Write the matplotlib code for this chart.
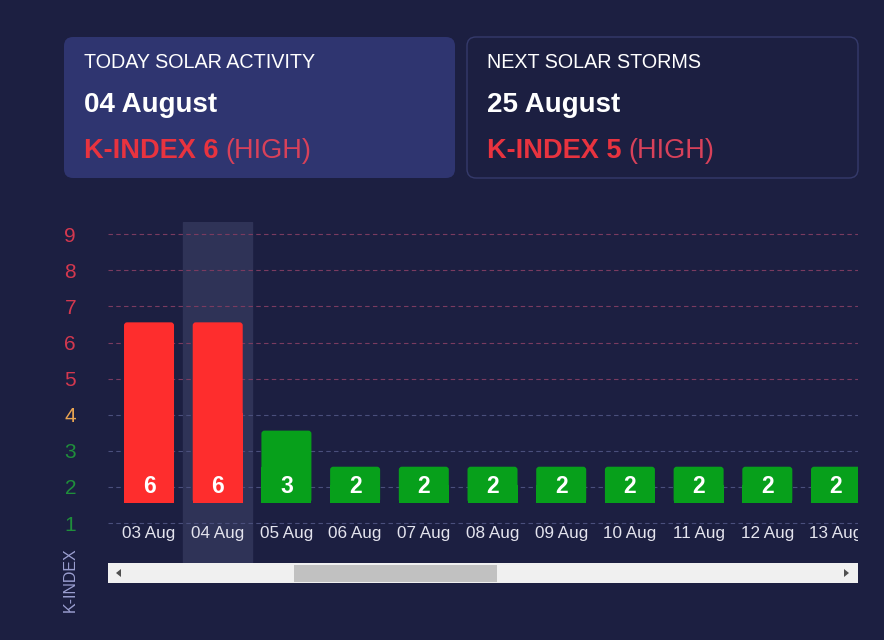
import numpy as np
import matplotlib
matplotlib.use("Agg")
import matplotlib.pyplot as plt
from matplotlib.patches import FancyBboxPatch, Rectangle, Polygon

plt.rcParams['font.family'] = ['Liberation Sans', 'DejaVu Sans']

# data
days = ["03 Aug", "04 Aug", "05 Aug", "06 Aug", "07 Aug", "08 Aug",
        "09 Aug", "10 Aug", "11 Aug", "12 Aug", "13 Aug"]
kindex = [6, 6, 3, 2, 2, 2, 2, 2, 2, 2, 2]
today_idx = 1
yticks = [1, 2, 3, 4, 5, 6, 7, 8, 9]

today_title = "TODAY SOLAR ACTIVITY"
today_date = "04 August"
today_k = 6
next_title = "NEXT SOLAR STORMS"
next_date = "25 August"
next_k = 5

bg = "#1c1f41"
red = "#fe2d2d"
green = "#07a01b"

W, H = 884, 640
fig = plt.figure(figsize=(W / 100, H / 100), dpi=100, facecolor=bg)

# background layer in pixel coords
bgax = fig.add_axes([0, 0, 1, 1], zorder=0)
bgax.set_xlim(0, W)
bgax.set_ylim(H, 0)
bgax.axis("off")
bgax.set_facecolor(bg)

# cards
bgax.add_patch(FancyBboxPatch((64, 37), 391, 141, boxstyle="round,pad=0,rounding_size=9",
                              fc="#2f3570", ec="none"))
bgax.add_patch(FancyBboxPatch((467, 37), 391, 141, boxstyle="round,pad=0,rounding_size=9",
                              fc=bg, ec="#353a6b", lw=1))


def card_text(x0, title, date, k):
    bgax.text(x0, 68, title, color="white", fontsize=14.2, va="baseline")
    bgax.text(x0, 112, date, color="white", fontsize=20, fontweight="bold", va="baseline")
    t = bgax.text(x0, 158, "K-INDEX %d" % k, color="#e8333f", fontsize=19.5,
                  fontweight="bold", va="baseline")
    bgax.annotate("(HIGH)", xy=(1, 0), xycoords=t, xytext=(5, 0), textcoords="offset points",
                  color="#d8415a", fontsize=19.5, va="bottom", ha="left")


card_text(84, today_title, today_date, today_k)
card_text(487, next_title, next_date, next_k)

# scrollbar
bgax.add_patch(Rectangle((108, 563), 750, 20, fc="#f0f0f0", ec="none"))
bgax.add_patch(Rectangle((294, 565), 203, 17, fc="#c1c1c1", ec="none"))
bgax.add_patch(Polygon([(116, 573), (121, 569), (121, 577)], fc="#505050", ec="none"))
bgax.add_patch(Polygon([(849, 573), (844, 569), (844, 577)], fc="#505050", ec="none"))

bgax.text(70, 580, "K-INDEX", color="#9a9ed0", fontsize=11.5, rotation=90,
          ha="center", va="center")

# main chart
ax = fig.add_axes([108 / W, 77 / H, 750 / W, 341 / H], zorder=1)
ax.patch.set_alpha(0)
for s in ax.spines.values():
    s.set_visible(False)
ax.set_xlim(-0.597, 10.32)
ax.set_ylim(-0.108, 9.34)

ax.axvspan(today_idx - 0.5, today_idx + 0.5, color="#2f3357", zorder=0)

for v in yticks:
    gc = "#7a3b60" if v >= 5 else "#4a4f7c"
    ax.axhline(v, color=gc, lw=0.8, ls=(0, (4, 3)), zorder=1)

base = 1.56
x = np.arange(len(days))
heights = [k - 1 for k in kindex]
colors = [red if k >= 5 else green for k in kindex]
bars = ax.bar(x, heights, bottom=base, width=0.728, color=colors, zorder=2)

# round the top corners: rounded box + square lower part
r = 0.045
aspect = 68.7 / 36.1
for b in bars:
    bx, by, bw, bh = b.get_x(), b.get_y(), b.get_width(), b.get_height()
    fc = b.get_facecolor()
    b.set_visible(False)
    ax.add_patch(FancyBboxPatch((bx, by), bw, bh, boxstyle="round,pad=0,rounding_size=%g" % r,
                                mutation_aspect=aspect, fc=fc, ec="none", zorder=2))
    ax.add_patch(Rectangle((bx, by), bw, bh / 2, fc=fc, ec="none", zorder=2))

for xi, k in zip(x, kindex):
    ax.text(xi, base + 0.45, str(k), color="white", fontsize=16.5, fontweight="bold",
            ha="center", va="center", zorder=3, clip_on=True)
for xi, d in zip(x, days):
    ax.text(xi, 0.72, d, color="#e4e4ee", fontsize=12.3, ha="center", va="center",
            zorder=3, clip_on=True)

ax.set_xticks([])
ax.set_yticks(yticks)
ax.set_yticklabels([str(v) for v in yticks], fontsize=15)
ax.tick_params(axis="y", length=0, pad=23)
for lab, v in zip(ax.get_yticklabels(), yticks):
    if v >= 5:
        lab.set_color("#d4384f")
    elif v == 4:
        lab.set_color("#e8a451")
    else:
        lab.set_color("#1f8f3b")

fig.savefig("out.png", dpi=100, facecolor=bg)
